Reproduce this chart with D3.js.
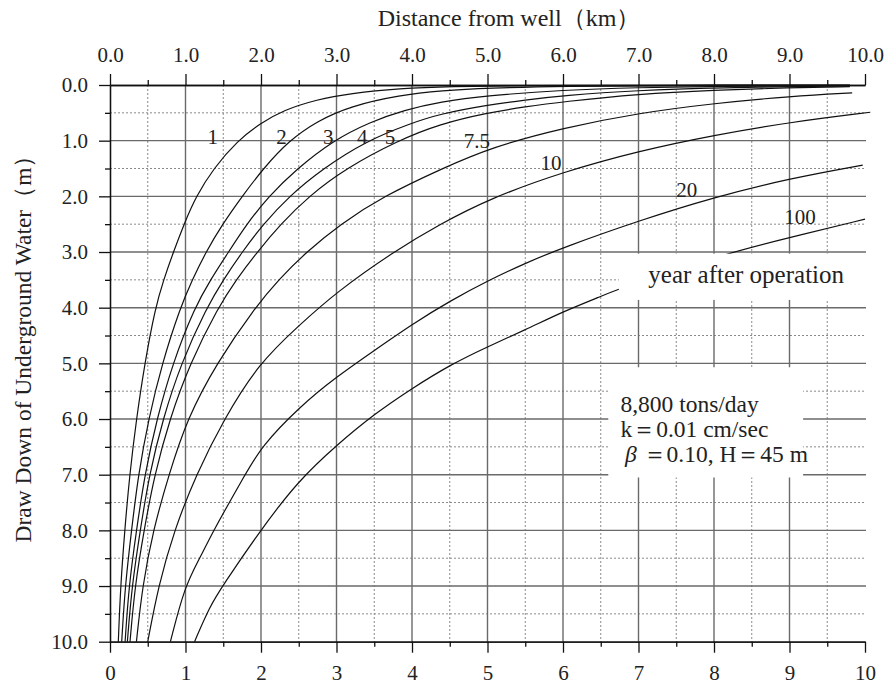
<!DOCTYPE html>
<html>
<head>
<meta charset="utf-8">
<script src="https://cdn.jsdelivr.net/npm/d3@7"></script>
<style>
body { margin: 0; background: #fff; }
svg text { font-family: "Liberation Serif", "DejaVu Serif", serif; fill: #222; }
.tick text { font-size: 21px; }
</style>
</head>
<body>
<svg width="889" height="686"></svg>
<script>
'use strict';

// ticks and labels
var xTicks = [0, 1, 2, 3, 4, 5, 6, 7, 8, 9, 10],
    xMinor = [0.5, 1.5, 2.5, 3.5, 4.5, 5.5, 6.5, 7.5, 8.5, 9.5],
    topLabels = ['0.0', '1.0', '2.0', '3.0', '4.0', '5.0', '6.0', '7.0', '8.0', '9.0', '10.0'],
    bottomLabels = ['0', '1', '2', '3', '4', '5', '6', '7', '8', '9', '10'],
    yTicks = [0, 1, 2, 3, 4, 5, 6, 7, 8, 9, 10],
    yMinor = [0.5, 1.5, 2.5, 3.5, 4.5, 5.5, 6.5, 7.5, 8.5, 9.5],
    yLabels = ['0.0', '1.0', '2.0', '3.0', '4.0', '5.0', '6.0', '7.0', '8.0', '9.0', '10.0'];

// years after operation
var years = ['1', '2', '3', '4', '5', '7.5', '10', '20', '100'];

// [distance km, draw down m]
var drawdown1 = [[0.11, 10], [0.14, 9], [0.195, 8], [0.26, 7], [0.35, 6], [0.46, 5], [0.60, 4], [0.71, 3.5],
    [0.84, 3], [0.98, 2.5], [1.14, 2], [1.37, 1.5], [1.69, 1.0], [1.99, 0.69], [2.30, 0.45], [2.74, 0.26],
    [3.18, 0.15], [3.84, 0.06], [4.5, 0.025], [5.5, 0.01], [7, 0.004], [9.8, 0]];
var drawdown2 = [[0.155, 10], [0.20, 9], [0.285, 8], [0.375, 7], [0.51, 6], [0.69, 5], [0.93, 4], [1.09, 3.5],
    [1.27, 3], [1.49, 2.5], [1.75, 2], [2.03, 1.5], [2.37, 1.0], [2.74, 0.65], [3.18, 0.38], [3.84, 0.18],
    [4.4, 0.10], [5.0, 0.055], [6, 0.02], [7.5, 0.008], [9.8, 0.005]];
var drawdown3 = [[0.20, 10], [0.25, 9], [0.35, 8], [0.46, 7], [0.62, 6], [0.83, 5], [1.12, 4], [1.33, 3.5],
    [1.57, 3], [1.81, 2.5], [2.10, 2], [2.48, 1.5], [2.95, 1.0], [3.45, 0.66], [3.9, 0.45], [4.37, 0.30],
    [5.0, 0.19], [6.0, 0.09], [7.0, 0.045], [8, 0.025], [9.8, 0.01]];
var drawdown4 = [[0.23, 10], [0.29, 9], [0.40, 8], [0.52, 7], [0.70, 6], [0.94, 5], [1.28, 4], [1.50, 3.5],
    [1.75, 3], [2.03, 2.5], [2.37, 2], [2.82, 1.5], [3.40, 1.0], [3.98, 0.69], [4.37, 0.52], [5.0, 0.36],
    [5.5, 0.27], [6.0, 0.19], [7.0, 0.095], [8.0, 0.05], [9.8, 0.015]];
var drawdown5 = [[0.265, 10], [0.33, 9], [0.45, 8], [0.59, 7], [0.79, 6], [1.06, 5], [1.43, 4], [1.67, 3.5],
    [1.95, 3], [2.26, 2.5], [2.63, 2], [3.12, 1.5], [3.81, 1.0], [4.37, 0.70], [5.0, 0.50], [5.5, 0.39],
    [6.0, 0.30], [7.0, 0.16], [8.0, 0.09], [9.0, 0.05], [9.8, 0.03]];
var drawdown7_5 = [[0.35, 10], [0.43, 9], [0.57, 8], [0.78, 7], [1.02, 6], [1.41, 5], [1.92, 4], [2.23, 3.5],
    [2.6, 3], [3.05, 2.5], [3.62, 2], [4.4, 1.5], [5.05, 1.12], [6.0, 0.77], [7.02, 0.5], [8.0, 0.33],
    [9.03, 0.2], [9.83, 0.14]];
var drawdown10 = [[0.50, 10], [0.64, 9], [0.85, 8], [1.14, 7], [1.51, 6], [1.97, 5], [2.51, 4.31], [3.0, 3.72],
    [3.75, 3.0], [4.37, 2.5], [5.03, 2.04], [6.0, 1.56], [7.02, 1.18], [8.0, 0.9], [9.0, 0.67], [10.07, 0.49]];
var drawdown20 = [[0.80, 10], [0.99, 9], [1.19, 8.5], [1.37, 8], [1.79, 7], [2.0, 6.5], [2.51, 5.78], [3.0, 5.24],
    [3.51, 4.76], [4.0, 4.3], [4.5, 3.88], [5.03, 3.5], [5.5, 3.2], [6.0, 2.92], [7.02, 2.43], [7.99, 2.02],
    [9.0, 1.68], [9.97, 1.44]];
var drawdown100 = [[1.12, 10], [1.32, 9.37], [1.49, 9.0], [1.99, 8.0], [2.5, 7.1], [3.0, 6.47], [3.51, 5.9],
    [4.0, 5.45], [4.5, 5.03], [5.0, 4.70], [5.5, 4.4], [6.0, 4.07], [6.5, 3.8], [6.75, 3.65], [8.17, 3.02],
    [9.0, 2.74], [10.0, 2.41]];

var curves = [drawdown1, drawdown2, drawdown3, drawdown4, drawdown5, drawdown7_5, drawdown10, drawdown20, drawdown100];

// where each year label sits [km, m]
var labelAt = [[1.36, 1.06], [2.27, 1.06], [2.89, 1.06], [3.34, 1.06], [3.71, 1.06],
    [4.86, 1.13], [5.84, 1.53], [7.64, 2.01], [9.14, 2.5]];

var svg = d3.select('svg');

var x = d3.scaleLinear().domain([0, 10]).range([110, 865]),
    y = d3.scaleLinear().domain([0, 10]).range([85, 641.7]);

// grid
var grid = svg.append('g');
grid.selectAll('.vmin').data(xMinor).enter().append('line')
    .attr('x1', function(d) { return x(d); }).attr('x2', function(d) { return x(d); })
    .attr('y1', y(0)).attr('y2', y(10))
    .attr('stroke', '#8a8a8a').attr('stroke-width', 1).attr('stroke-dasharray', '2,2');
grid.selectAll('.hmin').data(yMinor).enter().append('line')
    .attr('y1', function(d) { return y(d); }).attr('y2', function(d) { return y(d); })
    .attr('x1', x(0)).attr('x2', x(10) + 1)
    .attr('stroke', '#8a8a8a').attr('stroke-width', 1).attr('stroke-dasharray', '2,2');
grid.selectAll('.vmaj').data(xTicks.slice(1, -1)).enter().append('line')
    .attr('x1', function(d) { return x(d); }).attr('x2', function(d) { return x(d); })
    .attr('y1', y(0)).attr('y2', y(10))
    .attr('stroke', '#6a6a6a').attr('stroke-width', 1.4);
grid.selectAll('.hmaj').data(yTicks.slice(1, -1)).enter().append('line')
    .attr('y1', function(d) { return y(d); }).attr('y2', function(d) { return y(d); })
    .attr('x1', x(0)).attr('x2', x(10) + 1)
    .attr('stroke', '#6a6a6a').attr('stroke-width', 1.4);

// curves, smoothed through the read points
var line = d3.line()
    .x(function(d) { return x(d[0]); })
    .y(function(d) { return y(d[1]); })
    .curve(d3.curveBasis);

svg.append('g').selectAll('path').data(curves).enter().append('path')
    .attr('d', line)
    .attr('fill', 'none')
    .attr('stroke', '#111')
    .attr('stroke-width', 1.2);

// white boxes behind the notes
svg.append('rect')
    .attr('x', x(6.74)).attr('y', y(3.03))
    .attr('width', x(10.2) - x(6.74)).attr('height', y(3.86) - y(3.03))
    .attr('fill', '#fff');
svg.append('rect')
    .attr('x', x(6.6)).attr('y', y(5.07))
    .attr('width', x(9.18) - x(6.6)).attr('height', y(7.05) - y(5.07))
    .attr('fill', '#fff');

// axes
function styleAxis(g) {
    g.attr('font-family', null).attr('font-size', null).attr('color', '#111');
    g.selectAll('.tick line').attr('stroke-width', 1.3);
    g.select('.domain').attr('stroke-width', 1.3);
}

svg.append('g').attr('transform', 'translate(0,' + y(0) + ')')
    .call(d3.axisTop(x).tickValues(xTicks).tickFormat(function(d, i) { return topLabels[i]; })
        .tickSize(11).tickSizeOuter(0).tickPadding(12))
    .call(styleAxis);
svg.append('g').attr('transform', 'translate(0,' + y(0) + ')')
    .call(d3.axisTop(x).tickValues(xMinor).tickFormat('').tickSize(5).tickSizeOuter(0))
    .call(styleAxis);

svg.append('g').attr('transform', 'translate(0,' + y(10) + ')')
    .call(d3.axisBottom(x).tickValues(xTicks).tickFormat(function(d, i) { return bottomLabels[i]; })
        .tickSize(11).tickSizeOuter(0).tickPadding(12))
    .call(styleAxis);
svg.append('g').attr('transform', 'translate(0,' + y(10) + ')')
    .call(d3.axisBottom(x).tickValues(xMinor).tickFormat('').tickSize(5).tickSizeOuter(0))
    .call(styleAxis);

svg.append('g').attr('transform', 'translate(' + x(0) + ',0)')
    .call(d3.axisLeft(y).tickValues(yTicks).tickFormat(function(d, i) { return yLabels[i]; })
        .tickSize(11).tickSizeOuter(0).tickPadding(11))
    .call(styleAxis);
svg.append('g').attr('transform', 'translate(' + x(0) + ',0)')
    .call(d3.axisLeft(y).tickValues(yMinor).tickFormat('').tickSize(5).tickSizeOuter(0))
    .call(styleAxis);

// titles
svg.append('text')
    .attr('x', 509).attr('y', 26)
    .attr('text-anchor', 'middle')
    .style('font-size', '24px')
    .text('Distance from well（km）');

svg.append('text')
    .attr('transform', 'translate(31,343) rotate(-90)')
    .attr('text-anchor', 'middle')
    .style('font-size', '23.5px')
    .text('Draw Down of Underground Water（m）');

// year labels
svg.append('g').selectAll('text').data(years).enter().append('text')
    .attr('x', function(d, i) { return x(labelAt[i][0]); })
    .attr('y', function(d, i) { return y(labelAt[i][1]); })
    .attr('text-anchor', 'middle')
    .style('font-size', '21px')
    .text(function(d) { return d; });

svg.append('text')
    .attr('x', x(7.13)).attr('y', y(3.56))
    .style('font-size', '25px')
    .text('year after operation');

// pumping conditions
var note = svg.append('g').style('font-size', '23.5px');
note.append('text').attr('x', x(6.76)).attr('y', y(5.87)).text('8,800 tons/day');
note.append('text').attr('x', x(6.76)).attr('y', y(6.32)).text('k＝0.01 cm/sec');
var beta = note.append('text').attr('x', x(6.82)).attr('y', y(6.78));
beta.append('tspan').style('font-style', 'italic').text('β');
beta.append('tspan').text(' ＝0.10, H＝45 m');
</script>
</body>
</html>
